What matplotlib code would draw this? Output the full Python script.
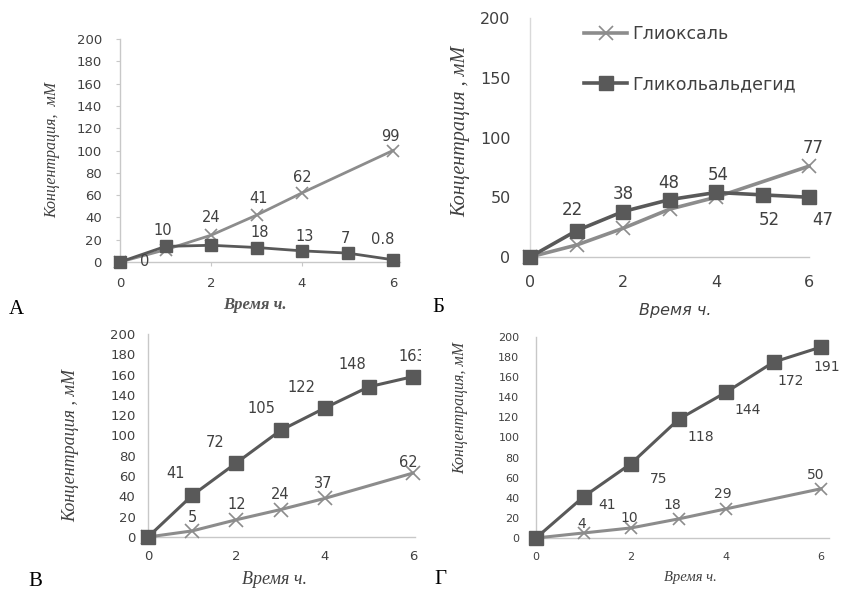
import matplotlib
matplotlib.use("Agg")
import matplotlib.pyplot as plt
from matplotlib.lines import Line2D
from matplotlib.transforms import Bbox, TransformedBbox

W, H = 842, 590

hours = [0, 1, 2, 3, 4, 5, 6]
glyox_hours = [0, 1, 2, 3, 4, 6]
xticks = [0, 2, 4, 6]

# panel A
a_glyox = [0, 11, 24, 42, 62, 100]
a_glyc = [0, 14, 15, 13, 10, 8, 2]
a_glyox_lbl = ["0", "", "24", "41", "62", "99"]
a_glyc_lbl = ["", "10", "", "18", "13", "7", "0.8"]
a_yticks = list(range(0, 201, 20))

# panel B (Б)
b_glyox = [0, 10, 24, 40, 50, 76]
b_glyc = [0, 22, 38, 48, 54, 52, 50]
b_glyox_lbl = ["", "", "", "", "", "77"]
b_glyc_lbl = ["", "22", "38", "48", "54", "52", "47"]
b_yticks = list(range(0, 201, 50))

# panel V (В)
v_glyox = [0, 6, 17, 27, 38, 63]
v_glyc = [0, 41, 73, 105, 127, 148, 158]
v_glyox_lbl = ["", "5", "12", "24", "37", "62"]
v_glyc_lbl = ["", "41", "72", "105", "122", "148", "163"]

# panel G (Г)
g_glyox = [0, 5, 10, 19, 29, 49]
g_glyc = [0, 41, 74, 118, 145, 175, 190]
g_glyox_lbl = ["", "4", "10", "18", "29", "50"]
g_glyc_lbl = ["", "41", "75", "118", "144", "172", "191"]

legend_names = ["Глиоксаль", "Гликольальдегид"]

# label offsets in pixels (dx, dy up)
a_glyox_off = [(25, 0), (0, 0), (0, 18), (2, 17), (0, 15), (-3, 14)]
a_glyc_off = [(0, 0), (-3, 16), (0, 0), (3, 15), (3, 14), (-2, 15), (-10, 20)]
b_glyox_off = [(0, 0)] * 5 + [(4, 18)]
b_glyc_off = [(0, 0), (-4, 21), (0, 18), (-1, 17), (2, 17), (7, -25), (14, -23)]
v_glyox_off = [(0, 0), (0, 13), (0, 15), (0, 15), (-1, 15), (-5, 11)]
v_glyc_off = [(0, 0), (-17, 22), (-21, 20), (-19, 22), (-23, 21), (-17, 22), (-1, 20)]
g_glyox_off = [(0, 0), (-2, 9), (-2, 10), (-6, 14), (-3, 15), (-5, 14)]
g_glyc_off = [(0, 0), (24, -8), (28, -15), (22, -18), (22, -18), (17, -19), (6, -20)]

C_GLYOX = "#8c8c8c"
C_GLYC = "#595959"
C_AXIS = "#c8c8c8"
C_TEXT = "#404040"
SANS = "DejaVu Sans"
SERIF = "Liberation Serif"

fig = plt.figure(figsize=(W / 100, H / 100), dpi=100)


def px(x, y):
    return x / W, 1 - y / H


def make_axes(left, x6, bottom, top, xmax):
    w = (x6 - left) * xmax / 6
    ax = fig.add_axes([left / W, 1 - bottom / H, w / W, (bottom - top) / H])
    ax.set_xlim(0, xmax)
    ax.set_ylim(0, 200)
    for s in ["top", "right"]:
        ax.spines[s].set_visible(False)
    for s in ["left", "bottom"]:
        ax.spines[s].set_color(C_AXIS)
        ax.spines[s].set_linewidth(1.0)
    ax.set_xticks(xticks)
    ax.patch.set_alpha(0)
    return ax


def style_ticks(ax, size, ypad, xpad, length):
    ax.tick_params(axis="both", colors=C_AXIS, labelcolor=C_TEXT,
                   length=length, labelsize=size)
    ax.tick_params(axis="y", pad=ypad)
    ax.tick_params(axis="x", pad=xpad)
    for lab in ax.get_xticklabels() + ax.get_yticklabels():
        lab.set_family(SANS)


def draw(ax, gx, gy, cy, glbl, clbl, goff, coff, ms, lw, fs, clip=None):
    ax.plot(gx, gy, color=C_GLYOX, lw=lw, marker="x", ms=ms * 0.95,
            mew=1.2, clip_on=False, zorder=3)
    ax.plot(hours, cy, color=C_GLYC, lw=lw, marker="s", ms=ms,
            clip_on=False, zorder=4)
    for xs, ys, lbls, offs in [(gx, gy, glbl, goff), (hours, cy, clbl, coff)]:
        for x, y, t, (dx, dy) in zip(xs, ys, lbls, offs):
            if not t:
                continue
            a = ax.annotate(t, (x, y), xytext=(dx * 0.72, dy * 0.72),
                            textcoords="offset points", ha="center", va="center",
                            fontsize=fs, family=SANS, color=C_TEXT,
                            annotation_clip=False, zorder=5)
            if clip is not None:
                a.set_clip_box(clip)
                a.set_clip_on(True)


# ---- A ----
axA = make_axes(120, 393, 262, 39, 6.15)
axA.set_yticks(a_yticks)
style_ticks(axA, 9.5, 10, 8, 3)
draw(axA, glyox_hours, a_glyox, a_glyc, a_glyox_lbl, a_glyc_lbl,
     a_glyox_off, a_glyc_off, 9, 2.0, 10.5)
fig.text(*px(52, 150), "Концентрация,  мМ", rotation=90, ha="center",
         va="center", family=SERIF, style="italic", fontsize=11.5, color=C_TEXT)
fig.text(*px(255, 305), "Время ч.", ha="center", va="center", family=SERIF,
         style="italic", fontweight="bold", fontsize=12, color="#555555")
fig.text(*px(16, 310), "А", ha="center", va="center", family=SERIF,
         fontsize=15, color="black")

# ---- Б ----
axB = make_axes(530, 809, 257, 18, 6.0)
axB.spines["left"].set_color("#d9d9d9")
axB.set_yticks(b_yticks)
style_ticks(axB, 11.5, 14, 13, 0)
draw(axB, glyox_hours, b_glyox, b_glyc, b_glyox_lbl, b_glyc_lbl,
     b_glyox_off, b_glyc_off, 10.5, 2.6, 12)
handles = [
    Line2D([], [], color=C_GLYOX, lw=2.6, marker="x", ms=10, mew=1.2),
    Line2D([], [], color=C_GLYC, lw=2.6, marker="s", ms=10),
]
axB.legend(handles, legend_names, loc="upper left",
           bbox_to_anchor=px(584, 25), bbox_transform=fig.transFigure,
           frameon=False, handlelength=2.5, handletextpad=0.3,
           labelspacing=1.85, borderpad=0, borderaxespad=0,
           prop={"family": SANS, "size": 12.5}, labelcolor=C_TEXT)
fig.text(*px(461, 131), "Концентрация , мМ", rotation=90, ha="center",
         va="center", family=SERIF, style="italic", fontsize=14.5, color=C_TEXT)
fig.text(*px(675, 310), "Время ч.", ha="center", va="center", family=SANS,
         style="italic", fontsize=11.5, color=C_TEXT)
fig.text(*px(438, 307), "Б", ha="center", va="center", family=SERIF,
         fontsize=15, color="black")

# ---- В ----
axV = make_axes(148, 413, 537, 334, 6.05)
axV.set_yticks(a_yticks)
style_ticks(axV, 9.5, 9, 9, 0)
left_clip = TransformedBbox(Bbox([[0, 0], [421 / W, 1]]), fig.transFigure)
draw(axV, glyox_hours, v_glyox, v_glyc, v_glyox_lbl, v_glyc_lbl,
     v_glyox_off, v_glyc_off, 10, 2.2, 10.5, clip=left_clip)
fig.text(*px(71, 445), "Концентрация , мМ", rotation=90, ha="center",
         va="center", family=SERIF, style="italic", fontsize=13, color=C_TEXT)
fig.text(*px(274, 580), "Время ч.", ha="center", va="center", family=SERIF,
         style="italic", fontsize=13, color=C_TEXT)
fig.text(*px(35, 581), "В", ha="center", va="center", family=SERIF,
         fontsize=15, color="black")

# ---- Г ----
axG = make_axes(536, 821, 538, 337, 6.17)
axG.set_yticks(a_yticks)
style_ticks(axG, 8, 12, 10, 0)
draw(axG, glyox_hours, g_glyox, g_glyc, g_glyox_lbl, g_glyc_lbl,
     g_glyox_off, g_glyc_off, 9.5, 2.2, 10)
fig.text(*px(460, 408), "Концентрация, мМ", rotation=90, ha="center",
         va="center", family=SERIF, style="italic", fontsize=11.5, color=C_TEXT)
fig.text(*px(690, 578), "Время ч.", ha="center", va="center", family=SERIF,
         style="italic", fontsize=10.5, color=C_TEXT)
fig.text(*px(440, 580), "Г", ha="center", va="center", family=SERIF,
         fontsize=15, color="black")

fig.savefig("out.png", dpi=100)
